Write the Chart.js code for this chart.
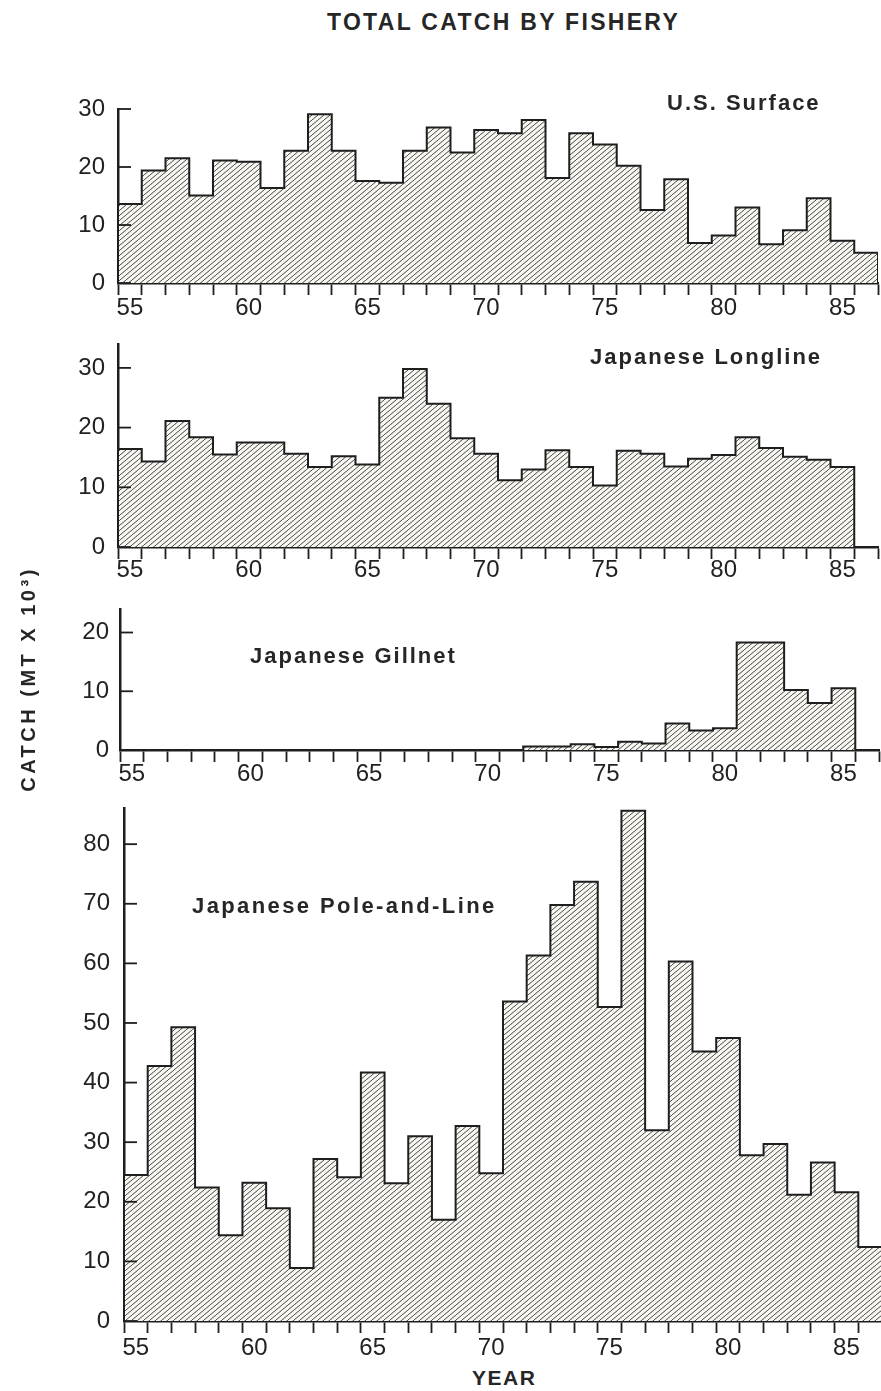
<!DOCTYPE html>
<html>
<head>
<meta charset="utf-8">
<script src="https://cdn.jsdelivr.net/npm/chart.js@4.4.1/dist/chart.umd.min.js"></script>
<style>
  body { margin:0; background:#fff; overflow:hidden; width:881px; height:1391px; position:relative; font-family:"Liberation Sans", Arial, sans-serif; }
  canvas { position:absolute; left:0; }
  .txt { position:absolute; font-weight:bold; font-size:22px; line-height:1; letter-spacing:2px; white-space:nowrap; color:#262626; }
</style>
</head>
<body>
<canvas id="c1" width="881" height="243" style="top:80px"></canvas>
<canvas id="c2" width="881" height="272" style="top:315px"></canvas>
<canvas id="c3" width="881" height="210" style="top:580px"></canvas>
<canvas id="c4" width="890" height="581" style="top:780px"></canvas>

<div class="txt" style="left:327px; top:11px; font-size:23px; letter-spacing:2.3px;">TOTAL CATCH BY FISHERY</div>
<div class="txt" style="left:-102px; top:667px; width:260px; height:24px; line-height:24px; text-align:center; font-size:20px; letter-spacing:3.5px; transform:rotate(-90deg);">CATCH (MT X 10³)</div>
<div class="txt" style="left:472px; top:1367px; font-size:21px; letter-spacing:1.5px;">YEAR</div>
<div class="txt" style="left:667px; top:92px;">U.S. Surface</div>
<div class="txt" style="left:590px; top:346px;">Japanese Longline</div>
<div class="txt" style="left:250px; top:645px;">Japanese Gillnet</div>
<div class="txt" style="left:192px; top:895px; letter-spacing:2.4px;">Japanese Pole-and-Line</div>

<script>
// años (cada barra ocupa de anio a anio+1)
const anios = [55,56,57,58,59,60,61,62,63,64,65,66,67,68,69,70,71,72,73,74,75,76,77,78,79,80,81,82,83,84,85,86];
const etiquetasX = [55,60,65,70,75,80,85];

// captura en miles de toneladas
const usSurface = [13.6,19.4,21.5,15.1,21.1,20.9,16.4,22.8,29.1,22.8,17.6,17.3,22.8,26.8,22.5,26.4,25.8,28.1,18.1,25.8,23.9,20.2,12.6,17.9,6.9,8.2,13.0,6.7,9.1,14.6,7.3,5.2];
const longline = [16.4,14.3,21.1,18.4,15.5,17.5,17.5,15.6,13.4,15.2,13.8,25.0,29.8,24.0,18.2,15.6,11.2,13.0,16.2,13.4,10.3,16.1,15.6,13.5,14.8,15.4,18.4,16.6,15.1,14.6,13.4];
const gillnet = [0,0,0,0,0,0,0,0,0,0,0,0,0,0,0,0,0,0.6,0.6,1.0,0.5,1.4,1.1,4.5,3.3,3.7,18.3,18.3,10.2,8.0,10.5];
const poleLine = [24.5,42.8,49.3,22.4,14.4,23.2,18.9,8.9,27.2,24.1,41.7,23.1,31.0,17.0,32.7,24.8,53.6,61.3,69.8,73.7,52.7,85.6,32.0,60.3,45.2,47.5,27.8,29.7,21.2,26.6,21.6,12.4];

//rayado diagonal para rellenar el histograma
const rayado = (ctx) => {
    const c = document.createElement('canvas');
    c.width = 6; c.height = 5;
    const g = c.getContext('2d');
    g.fillStyle = '#f7f6f0';
    g.fillRect(0, 0, 6, 5);
    g.strokeStyle = '#474747';
    g.lineWidth = 1;
    g.beginPath();
    for (let k = -1; k <= 1; k++) {
        g.moveTo(k * 6, 5);
        g.lineTo(k * 6 + 6, 0);
    }
    g.stroke();
    return ctx.createPattern(c, 'repeat');
}

//paso los valores a puntos escalonados (borde izquierdo de cada año)
const puntos = (valores) => {
    let pts = [{x: anios[0], y: 0}];
    valores.forEach((v, i) => {
        pts.push({x: anios[i], y: v});
    });
    pts.push({x: anios[valores.length - 1] + 1, y: 0});
    return pts;
}

//marcas del eje y hacia adentro
const marcasY = {
    id: 'marcasY',
    afterDatasetsDraw(chart) {
        const s = chart.scales.y;
        const ctx = chart.ctx;
        ctx.save();
        ctx.strokeStyle = '#1e1e1e';
        ctx.lineWidth = 1.8;
        s.ticks.forEach(t => {
            const y = s.getPixelForValue(t.value);
            ctx.beginPath();
            ctx.moveTo(s.right, y);
            ctx.lineTo(s.right + 13, y);
            ctx.stroke();
        });
        ctx.restore();
    }
}

const crearPanel = (id, valores, p) => {
    const canvas = document.getElementById(id);
    const ctx = canvas.getContext('2d');
    const fuente = {family: 'Liberation Sans', size: 24};
    return new Chart(ctx, {
        type: 'line',
        data: {
            datasets: [{
                data: puntos(valores),
                stepped: 'before',
                fill: 'origin',
                backgroundColor: rayado(ctx),
                borderColor: '#1e1e1e',
                borderWidth: 2,
                pointRadius: 0
            }]
        },
        options: {
            responsive: false,
            animation: false,
            devicePixelRatio: 1,
            events: [],
            layout: {padding: {left: 0, top: p.arriba, right: canvas.width - p.derecha, bottom: 0}},
            plugins: {legend: {display: false}, tooltip: {enabled: false}},
            scales: {
                x: {
                    type: 'linear', min: 55, max: 87,
                    afterFit: s => { s.height = 40; },
                    border: {display: true, color: '#1e1e1e', width: 2.5},
                    grid: {drawOnChartArea: false, drawTicks: true, tickLength: 12, tickColor: '#1e1e1e', tickWidth: 1.8},
                    ticks: {
                        stepSize: 1, maxTicksLimit: 100, autoSkip: false, maxRotation: 0,
                        labelOffset: (p.derecha - p.izq) / 64,
                        padding: p.padX, color: '#222', font: fuente,
                        callback: v => etiquetasX.includes(v) ? String(v) : ''
                    }
                },
                y: {
                    min: 0, max: p.yMax,
                    afterFit: s => { s.width = p.izq; },
                    border: {display: true, color: '#1e1e1e', width: 2.5},
                    grid: {display: false, drawTicks: false},
                    ticks: {stepSize: 10, includeBounds: false, padding: p.padY, color: '#222', font: fuente}
                }
            }
        },
        plugins: [marcasY]
    });
}

crearPanel('c1', usSurface, {arriba: 29, izq: 118, derecha: 878, yMax: 30, padX: -1, padY: 13});
crearPanel('c2', longline, {arriba: 29, izq: 118, derecha: 878, yMax: 34, padX: -3, padY: 13});
crearPanel('c3', gillnet, {arriba: 29, izq: 120, derecha: 879, yMax: 24, padX: -2, padY: 11});
crearPanel('c4', poleLine, {arriba: 27, izq: 124, derecha: 882, yMax: 86, padX: 1, padY: 14});
</script>
</body>
</html>
